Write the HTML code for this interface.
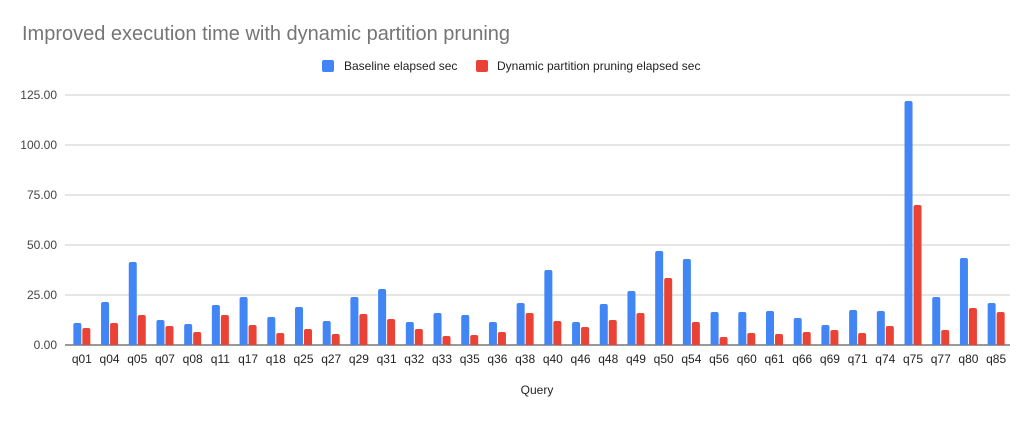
<!DOCTYPE html>
<html><head><meta charset="utf-8"><style>
body{margin:0;background:#fff;font-family:"Liberation Sans",Arial,sans-serif}
svg text{font-family:"Liberation Sans",Arial,sans-serif}
</style></head><body>
<svg id="c" width="1029" height="418" xmlns="http://www.w3.org/2000/svg">
<text x="22" y="40" font-size="20" fill="#757575">Improved execution time with dynamic partition pruning</text>
<g>
<rect x="322" y="60" width="12" height="12" rx="2" fill="#4285f4"/>
<text x="344" y="70" font-size="12" fill="#222">Baseline elapsed sec</text>
<rect x="476" y="60" width="12" height="12" rx="2" fill="#ea4335"/>
<text x="497" y="70" font-size="12" fill="#222">Dynamic partition pruning elapsed sec</text>
</g>
<g id="grid"></g><g id="bars"></g><g id="labels"></g>
<text x="537" y="394" font-size="12" fill="#222" text-anchor="middle">Query</text>
</svg>
<script>
const categories=["q01","q04","q05","q07","q08","q11","q17","q18","q25","q27","q29","q31","q32","q33","q35","q36","q38","q40","q46","q48","q49","q50","q54","q56","q60","q61","q66","q69","q71","q74","q75","q77","q80","q85"];
const baseline=[11,21.5,41.5,12.5,10.5,20,24,14,19,12,24,28,11.5,16,15,11.5,21,37.5,11.5,20.5,27,47,43,16.5,16.5,17,13.5,10,17.5,17,122,24,43.5,21];
const dpp=[8.5,11,15,9.5,6.5,15,10,6,8,5.5,15.5,13,8,4.5,5,6.5,16,12,9,12.5,16,33.5,11.5,4,6,5.5,6.5,7.5,6,9.5,70,7.5,18.5,16.5];
const ticks=[0,25,50,75,100,125];
const tickLabels=["0.00","25.00","50.00","75.00","100.00","125.00"];
const NS="http://www.w3.org/2000/svg";
const x0=68,x1=1010,y0=345,yTop=95,yMax=125;
const y=v=>y0-(v/yMax)*(y0-yTop);
const step=(x1-x0)/categories.length;
const cx=i=>x0+step*(i+0.5);
const grid=document.getElementById('grid'),bars=document.getElementById('bars'),labels=document.getElementById('labels');
ticks.forEach((t,i)=>{
 const l=document.createElementNS(NS,'line');
 
 
 l.setAttribute('x1',65);l.setAttribute('x2',x1);l.setAttribute('y1',y(t));l.setAttribute('y2',y(t));
 l.setAttribute('stroke',t===0?'#333':'#ccc');l.setAttribute('stroke-width',1);
 grid.appendChild(l);
 const tx=document.createElementNS(NS,'text');
 
 
 tx.setAttribute('x',57);tx.setAttribute('y',y(t)+4);tx.setAttribute('text-anchor','end');
 tx.setAttribute('font-size',12);tx.setAttribute('fill','#444');tx.textContent=tickLabels[i];
 labels.appendChild(tx);
});
function bar(xl,v,color,name){
 const h=y0-y(v),w=8,r=2;
 const p=document.createElementNS(NS,'path');
 
 
 const t=y(v);
 p.setAttribute('d',`M${xl},${y0}V${t+r}Q${xl},${t} ${xl+r},${t}H${xl+w-r}Q${xl+w},${t} ${xl+w},${t+r}V${y0}Z`);
 p.setAttribute('fill',color);
 bars.appendChild(p);
}
categories.forEach((c,i)=>{
 const m=cx(i);
 bar(m-8.5,baseline[i],'#4285f4','bar-baseline-'+c);
 bar(m+0.5,dpp[i],'#ea4335','bar-dpp-'+c);
 const tx=document.createElementNS(NS,'text');
 
 
 tx.setAttribute('x',m);tx.setAttribute('y',363);tx.setAttribute('text-anchor','middle');
 tx.setAttribute('font-size',12);tx.setAttribute('fill','#222');tx.textContent=c;
 labels.appendChild(tx);
});
grid.lastChild;
</script>
</body></html>
